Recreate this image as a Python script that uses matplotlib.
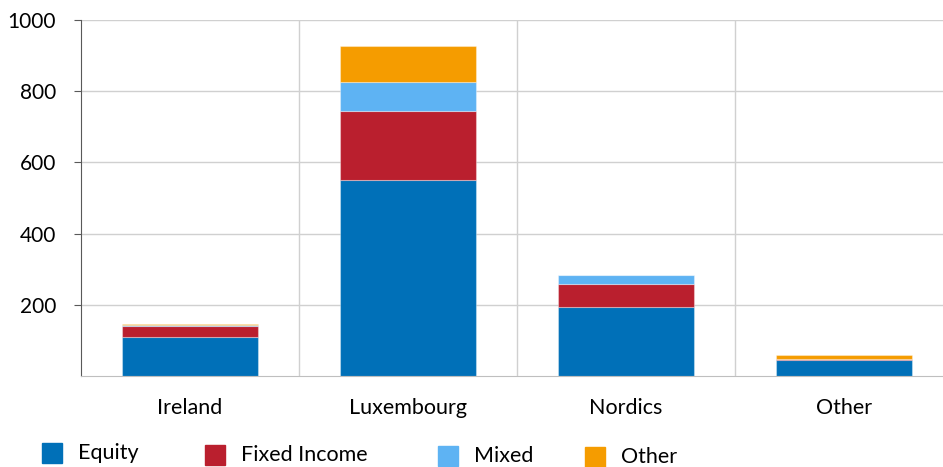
import numpy as np
import matplotlib.pyplot as plt
from matplotlib.patches import Rectangle

regions = ["Ireland", "Luxembourg", "Nordics", "Other"]
equity = [110, 550, 193, 45]
fixed_income = [29, 195, 66, 3]
mixed = [3, 82, 24, 0]
other = [4, 100, 0, 10]

series = ["Equity", "Fixed Income", "Mixed", "Other"]
colors = ["#0070B8", "#BA1F2E", "#5EB3F3", "#F59C00"]

plt.rcParams["font.family"] = ["Lato", "DejaVu Sans"]

fig = plt.figure(figsize=(9.43, 4.67), dpi=100)
ax = fig.add_axes([0.0859, 0.195, 0.9141, 0.762])

x = np.arange(len(regions))
bottom = np.zeros(len(regions))
for vals, col in zip([equity, fixed_income, mixed, other], colors):
    ax.bar(x, vals, width=0.62, bottom=bottom, color=col,
           edgecolor=(1, 1, 1, 0.35), linewidth=0.8, zorder=3)
    bottom += np.array(vals)

ax.set_xlim(-0.5, 3.454)
ax.set_ylim(0, 1000)
ax.set_yticks([200, 400, 600, 800, 1000])
ax.set_xticks(x, labels=regions)

for y in [200, 400, 600, 800, 1000]:
    ax.axhline(y, color="#d0d0d0", lw=1, zorder=1)
for xv in [0.5, 1.5, 2.5]:
    ax.axvline(xv, color="#d0d0d0", lw=1, zorder=1)

for s in ["top", "right"]:
    ax.spines[s].set_visible(False)
ax.spines["left"].set_color("#595959")
ax.spines["bottom"].set_color("#bfbfbf")
ax.spines["bottom"].set_zorder(4)
ax.tick_params(axis="y", length=5, color="#595959", pad=13, labelsize=15)
ax.tick_params(axis="x", length=0, pad=16, labelsize=15.5)

# legend drawn item by item to keep the uneven spacing
leg_x = [42, 205, 438, 585]
leg_y = [453, 455, 456, 457]
for name, col, lx, ly in zip(series, colors, leg_x, leg_y):
    fig.patches.append(Rectangle((lx / 943, 1 - (ly + 10) / 467), 20 / 943, 20 / 467,
                                 transform=fig.transFigure, color=col))
    fig.text((lx + 36) / 943, 1 - ly / 467, name, fontsize=15.5, va="center", ha="left")

fig.savefig("out.png", dpi=100)
